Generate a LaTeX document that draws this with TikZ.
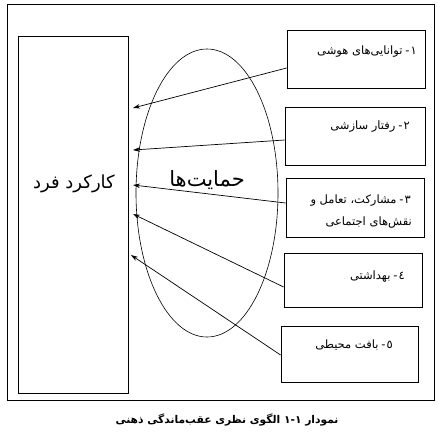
\documentclass[tikz,border=0pt]{standalone}
\usepackage{fontspec}
\newfontfamily\fa[Script=Arabic]{DejaVu Sans}
\TeXXeTstate=1
\usetikzlibrary{arrows.meta,shapes.geometric}
\tikzset{
  frame/.style={draw, line width=0.8pt},
  bx/.style={draw, line width=0.8pt, inner sep=0pt},
  lbl/.style={inner sep=0pt, anchor=east, font=\fa\fontsize{11.5}{14}\selectfont},
  arr/.style={draw, line width=0.7pt, -{Stealth[length=7pt,width=4.5pt]}},
}
\begin{document}
\begin{tikzpicture}[x=1pt,y=-1pt]
\useasboundingbox[fill=white] (0,0) rectangle (439,437);
% outer frame
\node[bx, minimum width=427pt, minimum height=396pt] (frm) at (220.5,202) {};
% left box
\node[bx, minimum width=110pt, minimum height=357pt] (L) at (73,214.5) {};
\node[inner sep=0pt, font=\fa\fontsize{18}{21}\selectfont] (Lt) at (74,184) {\beginR کارکرد فرد\endR};
% ellipse
\node[ellipse, draw, line width=0.6pt, minimum width=142pt, minimum height=288pt, inner sep=0pt] (E) at (207,193) {};
\node[inner sep=0pt, font=\fa\fontsize{21}{24}\selectfont] (Et) at (207,180) {\beginR حمایت‌ها\endR};
% right boxes
\node[bx, minimum width=138pt, minimum height=58pt] (b1) at (356,59) {};
\node[bx, minimum width=140pt, minimum height=58pt] (b2) at (355,136) {};
\node[bx, minimum width=138pt, minimum height=59pt] (b3) at (355,207.5) {};
\node[bx, minimum width=138pt, minimum height=54pt] (b4) at (353,280) {};
\node[bx, minimum width=137pt, minimum height=56pt] (b5) at (349.5,354) {};
% box texts
\node[lbl] (t1) at (417,52) {\beginR ۱\kern1pt-\kern3pt توانایی‌های هوشی\endR};
\node[lbl] (t2) at (410,127) {\beginR ۲\kern1pt-\kern3pt رفتار سازشی\endR};
\node[lbl] (t3) at (411,201) {\beginR ۳\kern1pt-\kern3pt مشارکت، تعامل و\endR};
\node[lbl] (t3b) at (412,223) {\beginR نقش‌های اجتماعی\endR};
\node[lbl] (t4) at (405,277) {\beginR ٤\kern1pt-\kern3pt بهداشتی\endR};
\node[lbl] (t5) at (393,345) {\beginR ٥\kern1pt-\kern3pt بافت محیطی\endR};
% arrow tips
\coordinate (p1) at (133,108);
\coordinate (p2) at (133,150);
\coordinate (p3) at (133,185);
\coordinate (p4) at (133,214);
\coordinate (p5) at (131,255);
\draw[arr] ([yshift=-9pt]b1.west) -- (p1);
\draw[arr] ([yshift=-4pt]b2.west) -- (p2);
\draw[arr] ([yshift=4.5pt]b3.west) -- (p3);
\draw[arr] ([yshift=-7pt]b4.west) -- (p4);
\draw[arr] ([yshift=-1pt]b5.west) -- (p5);
% caption
\node[inner sep=0pt, font=\fa\bfseries\fontsize{10.7}{13}\selectfont] (cap) at (227,420) {\beginR نمودار ۱-۱ الگوی نظری عقب‌ماندگی ذهنی\endR};
\end{tikzpicture}
\end{document}
